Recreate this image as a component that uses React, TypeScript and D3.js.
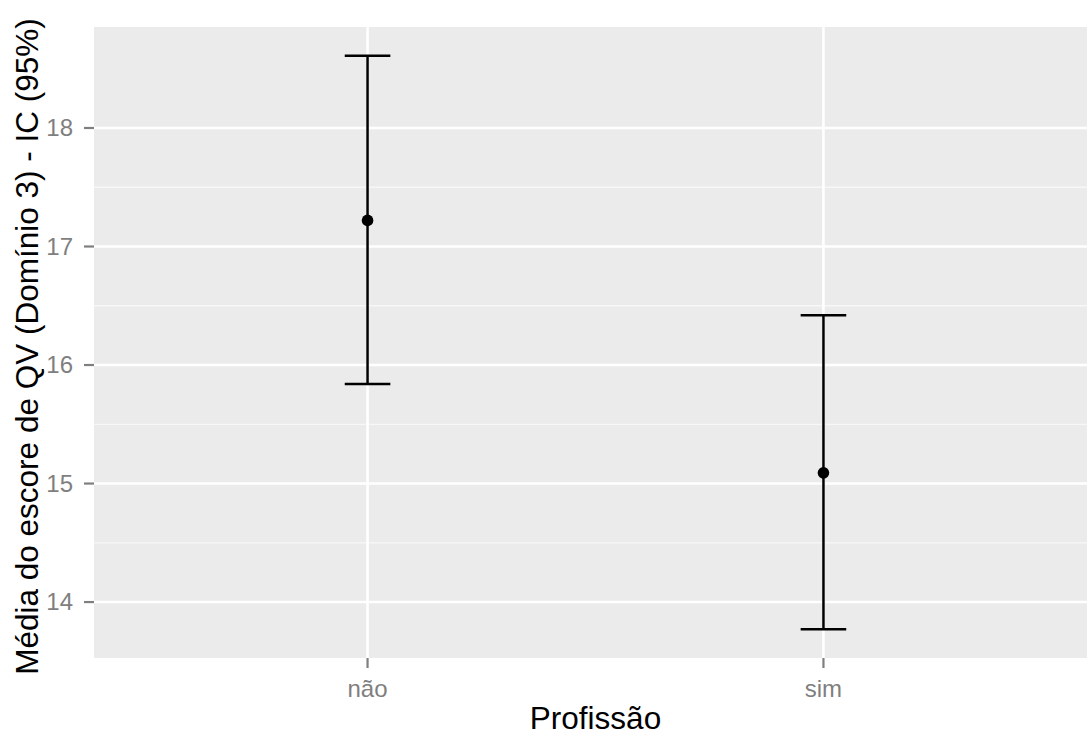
import React from "react";
import * as d3 from "d3";

const categories = ["não", "sim"];
const means = [17.22, 15.09];
const lowers = [15.84, 13.77];
const uppers = [18.61, 16.42];
const yTicks = [14, 15, 16, 17, 18];
const yMinor = [14.5, 15.5, 16.5, 17.5];

const W = 1087;
const H = 735;
const left = 94;
const right = 1097;
const top = 27;
const bottom = 658;

export default function App() {
  const lo = d3.min(lowers)!;
  const hi = d3.max(uppers)!;
  const pad = (hi - lo) * 0.05;
  const y = d3.scaleLinear().domain([lo - pad, hi + pad]).range([bottom, top]);
  const x = d3.scaleLinear().domain([0.4, categories.length + 0.6]).range([left, right]);
  const capHalf = (x(1.05) - x(1)) ;
  const font = "Liberation Sans, Arial, sans-serif";

  return (
    <svg width={W} height={H} style={{ position: "absolute", left: 0, top: 0, background: "#fff" }} fontFamily={font}>
      <rect x={left} y={top} width={right - left} height={bottom - top} fill="#EBEBEB" />
      {yMinor.map((v) => (
        <line key={"m" + v} x1={left} x2={right} y1={y(v)} y2={y(v)} stroke="#F7F7F7" strokeWidth={1.3} />
      ))}
      {yTicks.map((v) => (
        <line key={"g" + v} x1={left} x2={right} y1={y(v)} y2={y(v)} stroke="#fff" strokeWidth={2.6} />
      ))}
      {categories.map((c, i) => (
        <line key={"v" + c} x1={x(i + 1)} x2={x(i + 1)} y1={top} y2={bottom} stroke="#fff" strokeWidth={2.6} />
      ))}
      {yTicks.map((v) => (
        <g key={"t" + v}>
          <line x1={left - 10} x2={left} y1={y(v)} y2={y(v)} stroke="#7F7F7F" strokeWidth={2.2} />
          <text x={left - 21} y={y(v)} dy="0.35em" textAnchor="end" fontSize={24} fill="#7F7F7F">{v}</text>
        </g>
      ))}
      {categories.map((c, i) => (
        <g key={"xt" + c}>
          <line x1={x(i + 1)} x2={x(i + 1)} y1={bottom} y2={bottom + 10} stroke="#7F7F7F" strokeWidth={2.2} />
          <text x={x(i + 1)} y={697} textAnchor="middle" fontSize={24} fill="#7F7F7F">{c}</text>
        </g>
      ))}
      {categories.map((c, i) => {
        const cx = x(i + 1);
        return (
          <g key={"e" + c}>
            <line x1={cx} x2={cx} y1={y(lowers[i])} y2={y(uppers[i])} stroke="#000" strokeWidth={2.5} />
            <line x1={cx - capHalf} x2={cx + capHalf} y1={y(uppers[i])} y2={y(uppers[i])} stroke="#000" strokeWidth={2.5} />
            <line x1={cx - capHalf} x2={cx + capHalf} y1={y(lowers[i])} y2={y(lowers[i])} stroke="#000" strokeWidth={2.5} />
            <circle cx={cx} cy={y(means[i])} r={5.8} fill="#000" />
          </g>
        );
      })}
      <text x={(left + right) / 2} y={729} textAnchor="middle" fontSize={31.5} fill="#000">Profissão</text>
      <text transform={`translate(38,${(top + bottom) / 2 + 4}) rotate(-90)`} textAnchor="middle" fontSize={31.5} fill="#000">
        Média do escore de QV (Domínio 3) - IC (95%)
      </text>
    </svg>
  );
}
